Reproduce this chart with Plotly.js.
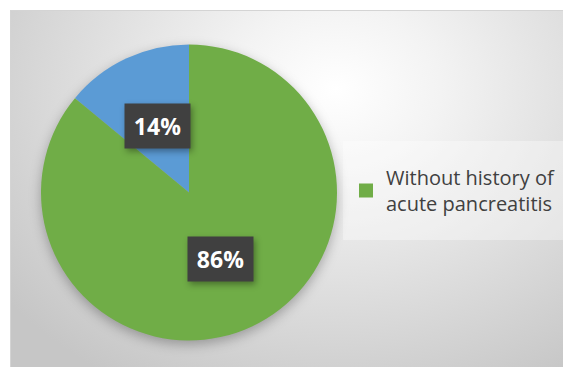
<!DOCTYPE html>
<html>
<head>
<meta charset="utf-8">
<script src="https://cdn.plot.ly/plotly-3.0.1.min.js"></script>
<style>
  html, body { margin:0; padding:0; background:#ffffff; }
  #wrap { position:relative; width:563px; height:367px; overflow:hidden; }
  #bg { position:absolute; left:10px; top:10px; width:560px; height:357px;
        border-left:1px solid #d4d4d4; border-top:1px solid #d4d4d4;
        background: radial-gradient(ellipse 75% 95% at 58% 22%, #ffffff 0%, #f3f3f3 25%, #dedede 60%, #c6c6c6 100%); }
  #chart { position:absolute; left:0; top:0; width:563px; height:367px; }
  #chart .pielayer { filter: drop-shadow(0px 4px 6px rgba(0,0,0,0.28)); }
  #chart .annotation-text-g rect { filter: drop-shadow(2px 3px 3px rgba(0,0,0,0.35)); }
</style>
</head>
<body>
<div id="wrap">
  <div id="bg"></div>
  <div id="chart"></div>
</div>
<script>
const labels = ["With history of acute pancreatitis", "Without history of acute pancreatitis"];
const values = [14, 86];
const sliceColors = ["#5B9BD5", "#70AD47"];
const legendShown = ["Without history of acute pancreatitis"];
const legendText = ["Without history of<br>acute pancreatitis"];

const W = 563, H = 367;
const dom = { x: [41 / W, 337 / W], y: [1 - 341 / H, 1 - 44 / H] };

const total = values.reduce((a, b) => a + b, 0);

// geometry of the pie from its domain (pie fits in the smaller side)
const cxPx = (dom.x[0] + dom.x[1]) / 2 * W;
const cyPx = (1 - (dom.y[0] + dom.y[1]) / 2) * H;
const rPx = Math.min((dom.x[1] - dom.x[0]) * W, (dom.y[1] - dom.y[0]) * H) / 2;

const annotations = [];
let cum = 0;
values.forEach((v, i) => {
  const mid = (cum + v / 2) / total * 2 * Math.PI; // counterclockwise from 12 o'clock
  cum += v;
  const px = cxPx - Math.sin(mid) * rPx * 0.5;
  const py = cyPx - Math.cos(mid) * rPx * 0.5;
  annotations.push({
    x: px / W, y: 1 - py / H, xref: 'paper', yref: 'paper',
    xanchor: 'center', yanchor: 'middle', showarrow: false,
    text: Math.round(v / total * 100) + '%',
    font: { family: 'Open Sans, sans-serif', size: 23, color: '#ffffff', weight: 'bold' },
    bgcolor: '#404040', borderpad: 6, width: 53
  });
});

// first slice runs clockwise so that it ends at 12 o'clock
const startRotation = -values[0] / total * 360;

const traces = [{
  type: 'pie',
  labels: labels,
  values: values,
  sort: false,
  direction: 'clockwise',
  rotation: startRotation,
  marker: { colors: sliceColors, line: { width: 0 } },
  textinfo: 'none',
  hoverinfo: 'label+percent',
  showlegend: false,
  domain: dom
}];

legendShown.forEach((name, k) => {
  traces.push({
    type: 'scatter', mode: 'markers', x: [null], y: [null],
    name: legendText[k],
    marker: { symbol: 'square', size: 14, color: sliceColors[labels.indexOf(name)] },
    showlegend: true, hoverinfo: 'skip'
  });
});

const layout = {
  width: W, height: H,
  margin: { l: 0, r: 0, t: 0, b: 0, autoexpand: false },
  paper_bgcolor: 'rgba(0,0,0,0)',
  plot_bgcolor: 'rgba(0,0,0,0)',
  xaxis: { visible: false },
  yaxis: { visible: false },
  showlegend: true,
  legend: {
    x: 346 / W, y: 1 - 158 / H, xanchor: 'left', yanchor: 'top',
    bgcolor: 'rgba(0,0,0,0)',
    font: { family: 'Open Sans, sans-serif', size: 20, color: '#404040' },
    itemwidth: 30,
    tracegroupgap: 0
  },
  shapes: [{
    type: 'rect', xref: 'paper', yref: 'paper', layer: 'below',
    x0: 343 / W, x1: 1.01, y0: 1 - 240 / H, y1: 1 - 141 / H,
    fillcolor: 'rgba(255,255,255,0.35)', line: { width: 0 }
  }],
  annotations: annotations
};

Plotly.newPlot('chart', traces, layout, { displayModeBar: false, staticPlot: true });
</script>
</body>
</html>
